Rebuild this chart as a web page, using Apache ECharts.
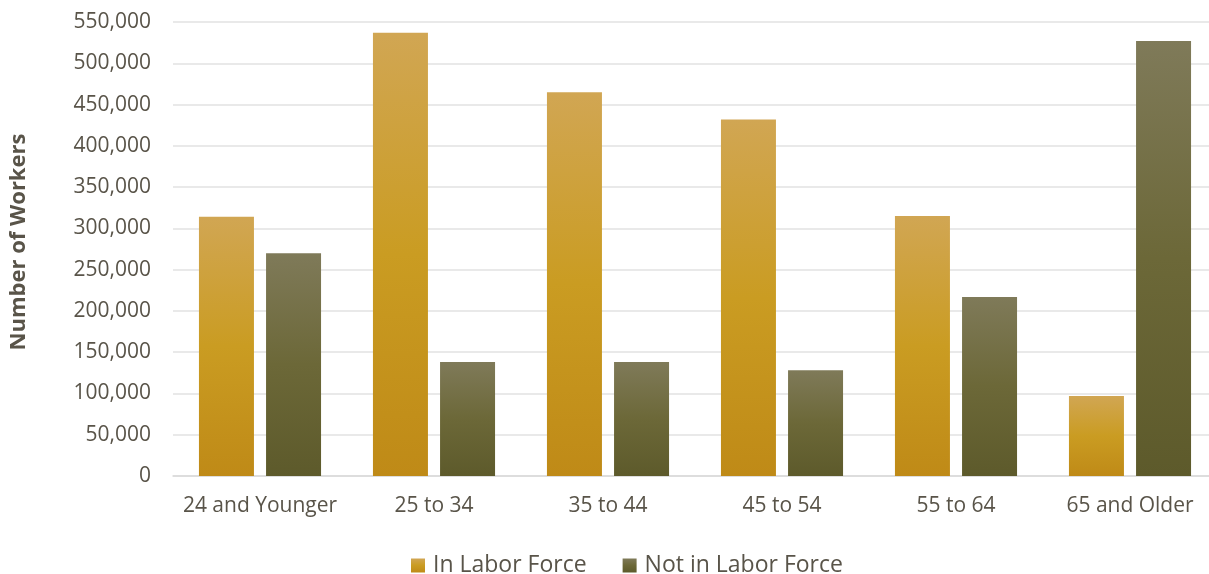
<!DOCTYPE html>
<html>
<head>
<meta charset="utf-8">
<script src="https://cdn.jsdelivr.net/npm/echarts@6/dist/echarts.min.js"></script>
<style>
  html, body { margin: 0; padding: 0; background: #fff; }
  #chart { width: 1209px; height: 574px; }
</style>
</head>
<body>
<div id="chart"></div>
<script>
// 数据：估计值
const categories = ['24 and Younger', '25 to 34', '35 to 44', '45 to 54', '55 to 64', '65 and Older'];
const inLaborForce = [314000, 537000, 465000, 432000, 315000, 97000];
const notInLaborForce = [270000, 138000, 138000, 128000, 217000, 527000];
const seriesNames = ['In Labor Force', 'Not in Labor Force'];

const TEXT = '#595449';
const FONT = '"Open Sans", "Noto Sans", sans-serif';

// 竖向渐变：顶部偏浅，底部偏深
function grad(top, mid, bottom) {
  return new echarts.graphic.LinearGradient(0, 0, 0, 1, [
    { offset: 0, color: top },
    { offset: 0.5, color: mid },
    { offset: 1, color: bottom }
  ]);
}

const chart = echarts.init(document.getElementById('chart'));
chart.setOption({
  animation: false,
  textStyle: { fontFamily: FONT },
  grid: { left: 173, width: 1044, top: 22, bottom: 98, outerBoundsMode: 'none', containLabel: false },
  legend: {
    top: 549,
    left: 406,
    itemWidth: 14,
    itemHeight: 14,
    itemGap: 36,
    icon: 'rect',
    textStyle: { color: TEXT, fontSize: 23, fontFamily: FONT, padding: [0, 0, 0, 3] },
    data: seriesNames
  },
  xAxis: {
    type: 'category',
    data: categories,
    axisTick: { show: false },
    axisLine: { lineStyle: { color: '#d9d9d9', width: 1.5 } },
    axisLabel: { color: TEXT, fontSize: 21, margin: 20, interval: 0, fontFamily: FONT }
  },
  yAxis: {
    type: 'value',
    min: 0,
    max: 550000,
    interval: 50000,
    name: 'Number of Workers',
    nameLocation: 'middle',
    nameGap: 143,
    nameTextStyle: {
      color: TEXT, fontSize: 22, fontWeight: 'bold', fontFamily: FONT,
      padding: [0, 0, 0, 14]
    },
    axisLine: { show: false },
    axisTick: { show: false },
    splitLine: { lineStyle: { color: '#e2e2e2', width: 1.5 } },
    axisLabel: {
      color: TEXT,
      fontSize: 21,
      margin: 22,
      fontFamily: FONT,
      formatter: v => v.toLocaleString('en-US')
    }
  },
  series: [
    {
      name: seriesNames[0],
      type: 'bar',
      data: inLaborForce,
      barWidth: 55,
      barGap: '22%',
      itemStyle: { color: grad('#d1a653', '#ca9c22', '#bf8a17') }
    },
    {
      name: seriesNames[1],
      type: 'bar',
      data: notInLaborForce,
      barWidth: 55,
      itemStyle: { color: grad('#7f7a59', '#6c6838', '#5d5a2b') }
    }
  ]
});
</script>
</body>
</html>
